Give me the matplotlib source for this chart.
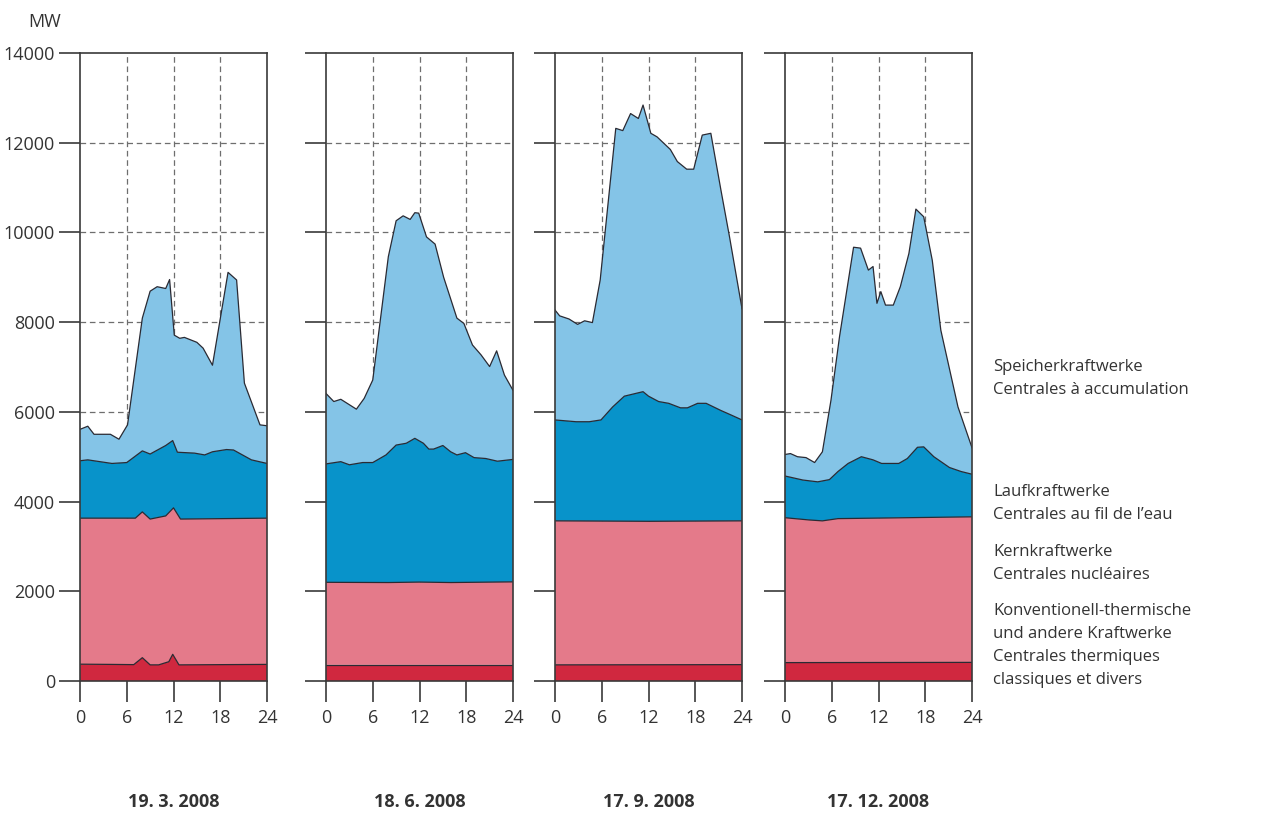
import numpy as np
import matplotlib
matplotlib.use("Agg")
import matplotlib.pyplot as plt

# ---------------- data (cumulative levels in MW) ----------------
dates = ["19. 3. 2008", "18. 6. 2008", "17. 9. 2008", "17. 12. 2008"]

# 19.3.2008
mar_therm_h = [0, 4, 6.9, 8, 9, 10.1, 11.4, 11.9, 12.7, 24]
mar_therm_v = [375, 370, 365, 520, 360, 360, 430, 595, 360, 370]
mar_nuc_h = [0, 7.1, 8, 9, 11, 12, 12.9, 24]
mar_nuc_v = [3630, 3630, 3770, 3610, 3680, 3860, 3610, 3630]
mar_riv_h = [0, 1, 4.1, 6, 8, 9, 11, 11.9, 12.5, 14.7, 16, 17, 18.8, 19.7, 22, 24]
mar_riv_v = [4910, 4930, 4850, 4870, 5130, 5060, 5250, 5360, 5100, 5080, 5040, 5110, 5160, 5150, 4930, 4850]
mar_sto_h = [0, 1, 1.8, 3.9, 5, 6.1, 8, 9, 9.9, 11, 11.5, 12.1, 12.8, 13.4, 15, 15.8, 17, 19, 20.1, 21.1, 23.1, 24]
mar_sto_v = [5610, 5680, 5500, 5500, 5390, 5710, 8090, 8690, 8790, 8750, 8950, 7710, 7640, 7660, 7550, 7420, 7040, 9110, 8940, 6640, 5710, 5690]

# 18.6.2008
jun_therm_h = [0, 24]
jun_therm_v = [360, 360]
jun_nuc_h = [0, 8, 12, 16, 24]
jun_nuc_v = [2200, 2195, 2205, 2195, 2210]
jun_riv_h = [0, 1.9, 3, 4.7, 6, 7.7, 9, 10.3, 11.4, 12.5, 13.2, 13.8, 15, 16, 16.8, 17.9, 19, 20.5, 22, 24]
jun_riv_v = [4840, 4890, 4820, 4870, 4870, 5040, 5260, 5300, 5410, 5300, 5170, 5170, 5250, 5110, 5040, 5090, 4980, 4960, 4900, 4940]
jun_sto_h = [0, 1, 1.9, 3.9, 4.9, 6, 8, 9, 9.9, 10.8, 11.4, 11.9, 12.9, 14, 15.1, 16.8, 17.7, 18.8, 19.9, 21, 21.9, 22.9, 24]
jun_sto_v = [6410, 6230, 6280, 6060, 6300, 6710, 9460, 10260, 10370, 10290, 10440, 10430, 9900, 9740, 9000, 8090, 7970, 7490, 7270, 7010, 7360, 6820, 6480]

# 17.9.2008
sep_therm_h = [0, 24]
sep_therm_v = [360, 365]
sep_nuc_h = [0, 12, 24]
sep_nuc_v = [3570, 3560, 3570]
sep_riv_h = [0, 2.7, 4.4, 5.9, 7.4, 8.9, 11.3, 12, 13.3, 14.6, 16.1, 17, 18.3, 19.4, 21.3, 22.6, 24]
sep_riv_v = [5820, 5780, 5780, 5820, 6110, 6350, 6450, 6350, 6230, 6190, 6090, 6090, 6190, 6190, 6030, 5930, 5820]
sep_sto_h = [0, 0.6, 1.8, 2.9, 3.8, 4.8, 5.8, 7.8, 8.7, 9.7, 10.7, 11.3, 12.3, 13.1, 14.8, 15.7, 16.9, 17.8, 18.9, 20, 21.3, 22.4, 24]
sep_sto_v = [8270, 8140, 8070, 7950, 8030, 7990, 8940, 12320, 12270, 12650, 12540, 12840, 12210, 12130, 11850, 11580, 11410, 11410, 12170, 12210, 10940, 9900, 8300]

# 17.12.2008
dec_therm_h = [0, 24]
dec_therm_v = [410, 415]
dec_nuc_h = [0, 3.1, 4.8, 6.8, 11.3, 24]
dec_nuc_v = [3640, 3590, 3570, 3620, 3630, 3660]
dec_riv_h = [0, 2.3, 4.2, 5.7, 6.8, 8.1, 9.8, 11.3, 12.4, 14.6, 15.7, 17, 17.8, 19.1, 21.1, 22.6, 24]
dec_riv_v = [4570, 4480, 4440, 4490, 4670, 4850, 5000, 4930, 4850, 4850, 4960, 5210, 5220, 5000, 4760, 4670, 4610]
dec_sto_h = [0, 0.7, 1.6, 2.7, 3.8, 4.8, 5.9, 7, 8.8, 9.7, 10.7, 11.3, 11.8, 12.3, 12.9, 13.9, 14.8, 15.9, 16.8, 17.8, 18.9, 20, 22.2, 24]
dec_sto_v = [5050, 5070, 5000, 4980, 4870, 5110, 6260, 7680, 9670, 9650, 9160, 9240, 8420, 8680, 8380, 8380, 8790, 9530, 10520, 10350, 9380, 7820, 6110, 5200]

x_ticks = [0, 6, 12, 18, 24]
y_ticks = [0, 2000, 4000, 6000, 8000, 10000, 12000, 14000]

legend_lines = [
    (["Speicherkraftwerke", "Centrales à accumulation"], 367),
    (["Laufkraftwerke", "Centrales au fil de l’eau"], 492),
    (["Kernkraftwerke", "Centrales nucléaires"], 552),
    (["Konventionell-thermische", "und andere Kraftwerke", "Centrales thermiques", "classiques et divers"], 611),
]

# ---------------- styling ----------------
col_therm = "#D0283F"
col_nuc = "#E47A8A"
col_riv = "#0893CA"
col_sto = "#84C4E7"
col_edge = "#2A2A33"
col_axis = "#3A3A3A"
col_text = "#333333"

plt.rcParams["font.family"] = ["Open Sans", "DejaVu Sans"]

W, H = 1283, 816
fig = plt.figure(figsize=(W / 100, H / 100), dpi=100)
fig.patch.set_facecolor("white")

panels = [
    (mar_therm_h, mar_therm_v, mar_nuc_h, mar_nuc_v, mar_riv_h, mar_riv_v, mar_sto_h, mar_sto_v),
    (jun_therm_h, jun_therm_v, jun_nuc_h, jun_nuc_v, jun_riv_h, jun_riv_v, jun_sto_h, jun_sto_v),
    (sep_therm_h, sep_therm_v, sep_nuc_h, sep_nuc_v, sep_riv_h, sep_riv_v, sep_sto_h, sep_sto_v),
    (dec_therm_h, dec_therm_v, dec_nuc_h, dec_nuc_v, dec_riv_h, dec_riv_v, dec_sto_h, dec_sto_v),
]
left_px = [80, 326, 555, 785]
width_px = 187
top_px, bot_px = 53, 681


def fill_between_curves(ax, h_lo, v_lo, h_hi, v_hi, color):
    xs = list(h_hi) + list(h_lo)[::-1]
    ys = list(v_hi) + list(v_lo)[::-1]
    ax.fill(xs, ys, color=color, linewidth=0, zorder=2)


for i, (p, lp) in enumerate(zip(panels, left_px)):
    ax = fig.add_axes([lp / W, (H - bot_px) / H, width_px / W, (bot_px - top_px) / H])
    th_h, th_v, nu_h, nu_v, ri_h, ri_v, st_h, st_v = p
    fill_between_curves(ax, [0, 24], [0, 0], th_h, th_v, col_therm)
    fill_between_curves(ax, th_h, th_v, nu_h, nu_v, col_nuc)
    fill_between_curves(ax, nu_h, nu_v, ri_h, ri_v, col_riv)
    fill_between_curves(ax, ri_h, ri_v, st_h, st_v, col_sto)
    for hh, vv in [(th_h, th_v), (nu_h, nu_v), (ri_h, ri_v), (st_h, st_v)]:
        ax.plot(hh, vv, color=col_edge, linewidth=0.9, zorder=3)

    ax.set_xlim(0, 24)
    ax.set_ylim(0, 14000)
    # dashed grid
    for gx in [6, 12, 18]:
        ax.axvline(gx, color="#6E6E6E", linestyle=(0, (4.5, 3)), linewidth=0.9, zorder=1)
    for gy in y_ticks[1:-1]:
        ax.axhline(gy, color="#6E6E6E", linestyle=(0, (4.5, 3)), linewidth=0.9, zorder=1)

    ax.set_xticks(x_ticks)
    ax.set_xticklabels([str(t) for t in x_ticks])
    ax.set_yticks(y_ticks)
    if i == 0:
        ax.set_yticklabels([str(t) for t in y_ticks])
    else:
        ax.set_yticklabels([])
    ax.tick_params(axis="both", direction="out", length=15, width=1.2, color=col_axis,
                   labelsize=13, labelcolor=col_text)
    ax.tick_params(axis="x", pad=5)
    ax.tick_params(axis="y", pad=3)
    for s in ax.spines.values():
        s.set_color(col_axis)
        s.set_linewidth(1.2)
        s.set_zorder(4)
    ax.set_facecolor("white")

    cx = (lp + width_px / 2) / W
    fig.text(cx, (H - 802) / H, dates[i], ha="center", va="center", fontsize=13,
             fontweight="bold", color=col_text)

fig.text(28 / W, (H - 22) / H, "MW", ha="left", va="center", fontsize=13, color=col_text)

for lines, y0 in legend_lines:
    for k, t in enumerate(lines):
        fig.text(993 / W, (H - (y0 + 23 * k)) / H, t, ha="left", va="center",
                 fontsize=12, color=col_text)

fig.savefig("out.png", dpi=100)
